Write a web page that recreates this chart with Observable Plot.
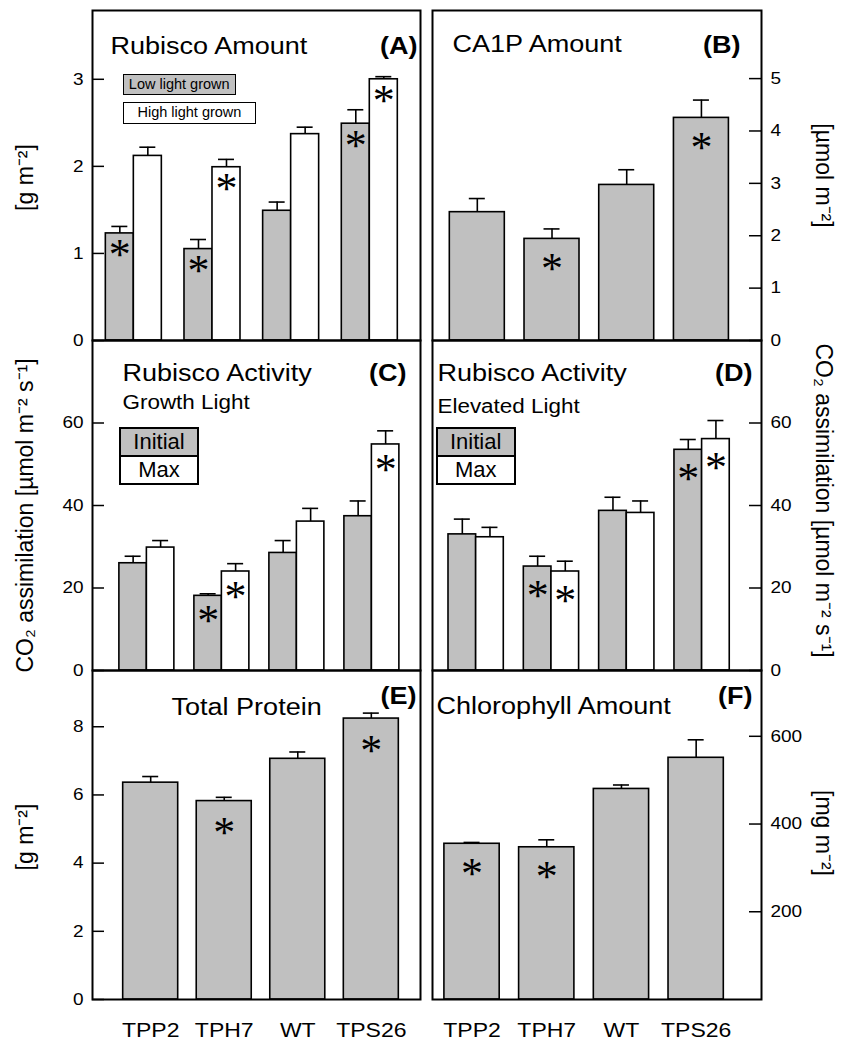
<!DOCTYPE html>
<html>
<head>
<meta charset="utf-8">
<script src="https://cdn.jsdelivr.net/npm/d3@7"></script>
<script src="https://cdn.jsdelivr.net/npm/@observablehq/plot@0.6"></script>
<style>
  body { margin: 0; background: white; }
  #wrap { position: relative; width: 843px; height: 1042px; background: white; overflow: hidden; }
  .lg { position: absolute; box-sizing: border-box; border: 1.5px solid black; text-align: center; color: black;
        font-family: 'Liberation Sans', Arial, Helvetica, sans-serif; white-space: nowrap; }
</style>
</head>
<body>
<div id="wrap"></div>
<script>
const categories = ["TPP2", "TPH7", "WT", "TPS26"];

// (A) Rubisco amount [g m-2]
const rubiscoLow = [1.23, 1.05, 1.49, 2.49];
const rubiscoLowSE = [0.08, 0.11, 0.10, 0.16];
const rubiscoLowSig = [1, 1, 0, 1];
const rubiscoHigh = [2.12, 1.99, 2.37, 3.00];
const rubiscoHighSE = [0.10, 0.09, 0.08, 0.03];
const rubiscoHighSig = [0, 1, 0, 1];
// (B) CA1P amount [umol m-2]
const ca1p = [2.45, 1.94, 2.97, 4.25];
const ca1pSE = [0.26, 0.19, 0.29, 0.34];
const ca1pSig = [0, 1, 0, 1];
// (C) Rubisco activity, growth light
const growthInitial = [26.0, 18.1, 28.5, 37.4];
const growthInitialSE = [1.7, 0.5, 3.0, 3.7];
const growthInitialSig = [0, 1, 0, 0];
const growthMax = [29.8, 24.0, 36.1, 54.8];
const growthMaxSE = [1.7, 1.9, 3.2, 3.3];
const growthMaxSig = [0, 1, 0, 1];
// (D) Rubisco activity, elevated light
const elevInitial = [33.0, 25.2, 38.7, 53.5];
const elevInitialSE = [3.7, 2.5, 3.3, 2.5];
const elevInitialSig = [0, 1, 0, 1];
const elevMax = [32.3, 24.0, 38.2, 56.1];
const elevMaxSE = [2.4, 2.5, 2.9, 4.5];
const elevMaxSig = [0, 1, 0, 1];
// (E) Total protein [g m-2]
const protein = [6.36, 5.82, 7.06, 8.24];
const proteinSE = [0.18, 0.11, 0.20, 0.16];
const proteinSig = [0, 1, 0, 1];
// (F) Chlorophyll [mg m-2]
const chlorophyll = [355, 347, 480, 551];
const chlorophyllSE = [3, 17, 9, 41];
const chlorophyllSig = [1, 1, 0, 0];

const ticksA = [0, 1, 2, 3];
const ticksB = [0, 1, 2, 3, 4, 5];
const ticksC = [0, 20, 40, 60];
const ticksD = [0, 20, 40, 60];
const ticksE = [0, 2, 4, 6, 8];
const ticksF = [200, 400, 600];

const labelGm2 = "[g m\u207B\u00B2]";
const labelUmol = "[\u00B5mol m\u207B\u00B2]";
const labelCO2 = "CO\u2082 assimilation [\u00B5mol m\u207B\u00B2 s\u207B\u00B9]";
const labelMg = "[mg m\u207B\u00B2]";

const GRAY = "#c0c0c0";
const FONT = "'Liberation Sans', Arial, Helvetica, sans-serif";
const STRETCH = 1.15;
const wrap = document.getElementById("wrap");

function panel(cfg) {
  const {left, top, width, height, mt, mb, ml, mr, yMax, ticks, side, pad, series,
         title, sub, tag, yLabel, yLabelDy, xAxis, astDy} = cfg;
  const fw = width - ml - mr;
  const bw = d3.scaleBand().domain(categories).range([ml, width - mr])
    .paddingInner(pad[0]).paddingOuter(pad[1]).align(pad[2]).bandwidth();
  const cap = 16;
  const marks = [];
  for (const s of series) {
    const r = categories.map((c, i) => ({cat: c, v: s.values[i], top: s.values[i] + s.se[i], sig: s.sig[i]}));
    const c = s.center, h = s.half;
    marks.push(Plot.ruleX(r, {x: "cat", y1: "v", y2: "top", dx: (c - 0.5) * bw, stroke: "black", strokeWidth: 1.6}));
    marks.push(Plot.tickY(r, {x: "cat", y: "top", insetLeft: c * bw - cap / 2, insetRight: (1 - c) * bw - cap / 2, stroke: "black", strokeWidth: 1.6}));
    marks.push(Plot.barY(r, {x: "cat", y: "v", fill: s.fill, stroke: "black", strokeWidth: 1.6,
      insetLeft: (c - h) * bw, insetRight: (1 - c - h) * bw}));
    marks.push(Plot.text(r.filter(d => d.sig), {x: "cat", y: "v", text: () => "*", dx: (c - 0.5) * bw, dy: astDy,
      fontFamily: "'Liberation Serif', 'Times New Roman', serif", fontSize: 44, lineAnchor: "middle", fill: "black"}));
  }
  // inward ticks
  marks.push(Plot.tickY(ticks, {y: d => d, stroke: "black", strokeWidth: 1.5,
    ...(side === "left" ? {insetRight: fw - 12} : {insetLeft: fw - 12})}));
  marks.push(Plot.axisY({ticks, anchor: side, tickSize: 0, tickPadding: 9, fontSize: 16.5, label: null, tickFormat: d3.format("d")}));
  if (xAxis) marks.push(Plot.axisX({anchor: "bottom", tickSize: 0, tickPadding: 23, fontSize: 20, label: null}));
  marks.push(Plot.frame({stroke: "black", strokeWidth: 2}));
  marks.push(Plot.text([title[0]], {text: d => d, frameAnchor: "top-left", dx: title[1], dy: title[2],
    textAnchor: "start", lineAnchor: "bottom", fontSize: 23.5, fill: "black"}));
  if (sub) marks.push(Plot.text([sub[0]], {text: d => d, frameAnchor: "top-left", dx: sub[1], dy: sub[2],
    textAnchor: "start", lineAnchor: "bottom", fontSize: 19.5, fill: "black"}));
  marks.push(Plot.text([tag[0]], {text: d => d, frameAnchor: "top-right", dx: tag[1], dy: tag[2],
    textAnchor: "end", lineAnchor: "bottom", fontSize: 23.5, fontWeight: "bold", fill: "black"}));
  marks.push(Plot.text([yLabel], {text: d => d, frameAnchor: side, dx: side === "left" ? -67 : 62, dy: yLabelDy,
    rotate: side === "left" ? -90 : 90, textAnchor: "middle", lineAnchor: "middle", fontSize: 23, fill: "black"}));

  const svg = Plot.plot({
    width, height, marginTop: mt, marginBottom: mb, marginLeft: ml, marginRight: mr,
    style: {fontFamily: FONT, background: "transparent", overflow: "visible", color: "black"},
    x: {type: "band", domain: categories, paddingInner: pad[0], paddingOuter: pad[1], align: pad[2], round: false, ...(xAxis ? {} : {axis: null})},
    y: {domain: [0, yMax]},
    marks
  });
  svg.style.position = "absolute";
  svg.style.left = left + "px";
  svg.style.top = top + "px";
  wrap.appendChild(svg);
  // the original typesetting is horizontally wide: stretch horizontal texts a little
  svg.querySelectorAll("text").forEach(t => {
    const tr = t.getAttribute("transform") || "";
    if (tr.includes("rotate") || t.textContent === "*") return;
    const L = t.getComputedTextLength();
    if (L > 0) {
      t.setAttribute("textLength", (L * STRETCH).toFixed(2));
      t.setAttribute("lengthAdjust", "spacingAndGlyphs");
    }
  });
}

const low = (values, se, sig) => ({values, se, sig, fill: GRAY, center: 0.25, half: 0.25});
const high = (values, se, sig) => ({values, se, sig, fill: "white", center: 0.75, half: 0.25});
const single = (values, se, sig) => ({values, se, sig, fill: GRAY, center: 0.5, half: 0.5});

// Row 1
panel({left: 0, top: 0, width: 430, height: 350, mt: 10, mb: 10, ml: 92, mr: 10, yMax: 3.79, ticks: ticksA, side: "left",
  pad: [0.288, 0.229, 0.37], astDy: 22,
  series: [low(rubiscoLow, rubiscoLowSE, rubiscoLowSig), high(rubiscoHigh, rubiscoHighSE, rubiscoHighSig)],
  title: ["Rubisco Amount", 18, 43], tag: ["(A)", -3, 43], yLabel: labelGm2, yLabelDy: 2});
panel({left: 422, top: 0, width: 421, height: 350, mt: 10, mb: 10, ml: 10, mr: 82, yMax: 6.3, ticks: ticksB, side: "right",
  pad: [0.264, 0.334, 0.347], astDy: 30,
  series: [single(ca1p, ca1pSE, ca1pSig)],
  title: ["CA1P Amount", 20, 41], tag: ["(B)", -21, 42], yLabel: labelUmol, yLabelDy: 0});
// Row 2
panel({left: 0, top: 330, width: 430, height: 350, mt: 10, mb: 10, ml: 92, mr: 10, yMax: 80, ticks: ticksC, side: "left",
  pad: [0.267, 0.32, 0.56], astDy: 25,
  series: [low(growthInitial, growthInitialSE, growthInitialSig), high(growthMax, growthMaxSE, growthMaxSig)],
  title: ["Rubisco Activity", 30, 40], sub: ["Growth Light", 30, 68], tag: ["(C)", -14, 40], yLabel: labelCO2, yLabelDy: 10});
panel({left: 422, top: 330, width: 421, height: 350, mt: 10, mb: 10, ml: 10, mr: 82, yMax: 80, ticks: ticksD, side: "right",
  pad: [0.266, 0.317, 0.335], astDy: 29,
  series: [low(elevInitial, elevInitialSE, elevInitialSig), high(elevMax, elevMaxSE, elevMaxSig)],
  title: ["Rubisco Activity", 5, 40], sub: ["Elevated Light", 5, 72], tag: ["(D)", -9, 40], yLabel: labelCO2, yLabelDy: -5});
// Row 3
panel({left: 0, top: 660, width: 430, height: 382, mt: 10, mb: 43, ml: 92, mr: 10, yMax: 9.65, ticks: ticksE, side: "left",
  pad: [0.252, 0.356, 0.586], astDy: 32, xAxis: true,
  series: [single(protein, proteinSE, proteinSig)],
  title: ["Total Protein", 79, 44], tag: ["(E)", -4, 33], yLabel: labelGm2, yLabelDy: 2});
panel({left: 422, top: 660, width: 421, height: 382, mt: 10, mb: 43, ml: 10, mr: 82, yMax: 750, ticks: ticksF, side: "right",
  pad: [0.26, 0.332, 0.24], astDy: 30, xAxis: true,
  series: [single(chlorophyll, chlorophyllSE, chlorophyllSig)],
  title: ["Chlorophyll Amount", 4, 43], tag: ["(F)", -9, 33], yLabel: labelMg, yLabelDy: -2});

// Legends
function box(text, l, t, w, h, bg, fs, bw) {
  const d = document.createElement("div");
  d.className = "lg";
  d.textContent = text;
  Object.assign(d.style, {left: l + "px", top: t + "px", width: w + "px", height: h + "px", background: bg,
    fontSize: fs + "px", lineHeight: (h - 2 * bw) + "px", borderWidth: bw + "px"});
  wrap.appendChild(d);
}
box("Low light grown", 122.7, 74, 113, 21, GRAY, 14.5, 1.5);
box("High light grown", 122.7, 102, 133.5, 21.5, "white", 14.5, 1.5);
box("Initial", 119, 427, 80, 30, GRAY, 22, 2.5);
box("Max", 119, 455, 80, 30, "white", 22, 2.5);
box("Initial", 435.7, 427, 80, 30, GRAY, 22, 2.5);
box("Max", 435.7, 455, 80, 30, "white", 22, 2.5);
</script>
</body>
</html>
